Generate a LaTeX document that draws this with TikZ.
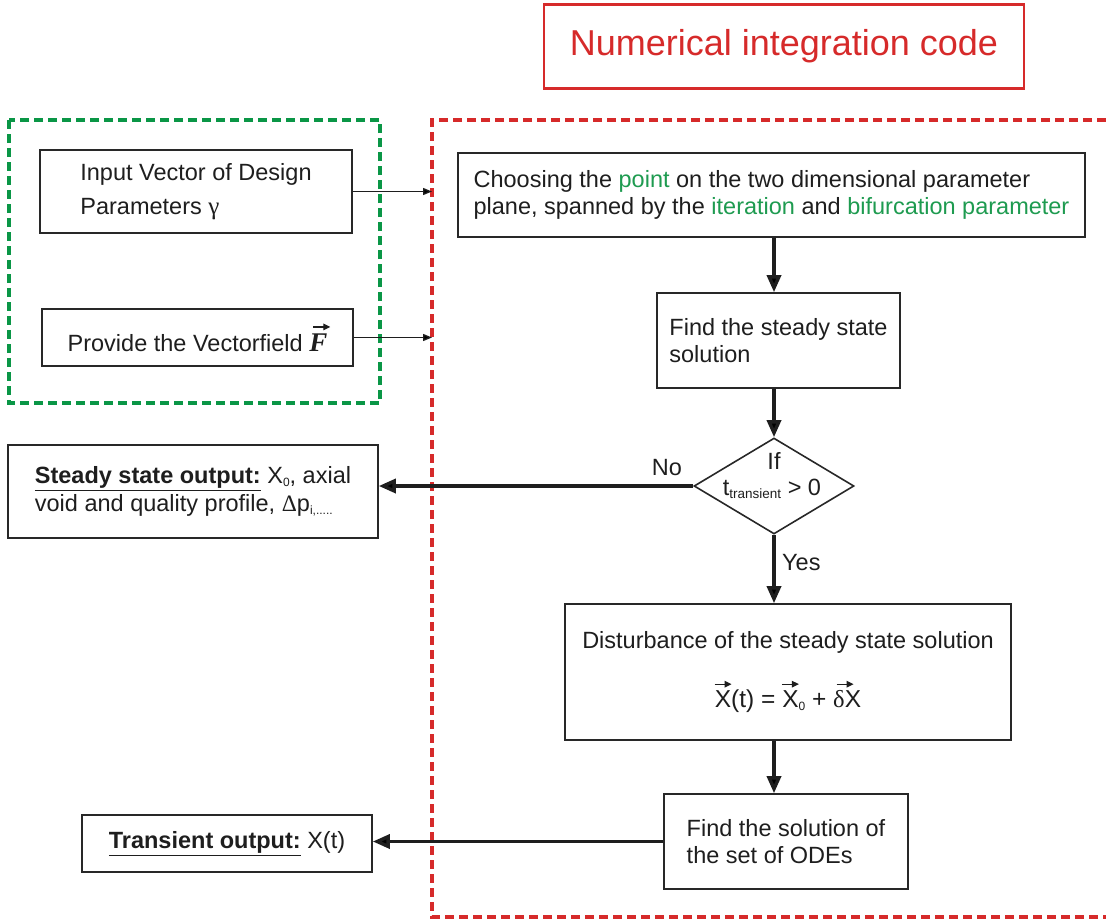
\documentclass[tikz,border=0pt]{standalone}
\usepackage{fontspec}
\usepackage{graphicx}
\setmainfont{Liberation Sans}
\newfontfamily\greekfont{Liberation Serif}
\usetikzlibrary{shapes.geometric,arrows.meta,calc}

\definecolor{ncred}{RGB}{214,42,42}
\definecolor{ncgreen}{RGB}{10,150,70}
\definecolor{wordgreen}{RGB}{30,155,80}
\definecolor{boxline}{RGB}{40,40,40}
\definecolor{textdark}{RGB}{30,30,30}

\newcommand\mainsize{\fontsize{23.5}{27}\selectfont}
% small lowered index, as in X_0
\newcommand\lowidx[1]{\raisebox{-2.5pt}{\fontsize{12}{12}\selectfont #1}}
% lowered subscript word, as in t_transient
\newcommand\lowword[1]{\raisebox{-3pt}{\fontsize{13.5}{13.5}\selectfont #1}}
% small drawn arrow
\newcommand\smallarrow{\tikz[x=1pt,y=1pt]\draw[textdark, line width=1.3pt,
  -{Triangle[length=7pt,width=6.5pt]}] (0,0) -- (17,0);}
% arrow placed above a symbol: #1 raise, #2 horizontal shift, #3 symbol
\newcommand\vecover[3]{\leavevmode\setbox0=\hbox{#3}%
  \rlap{\hbox to\wd0{\hss\kern#2\raisebox{#1}{\smallarrow}\hss}}\box0}

\tikzset{
  box/.style={draw=boxline, line width=1.6pt, fill=white, inner sep=0pt,
    text=textdark, font=\mainsize},
  flow/.style={draw=textdark, line width=3.4pt, -{Triangle[length=17pt,width=14pt]}},
  feed/.style={draw=textdark, line width=1.3pt, -{Triangle[length=9pt,width=7pt]}},
  frame/.style={line width=3.4pt, dash pattern=on 9pt off 5pt},
  lbl/.style={font=\mainsize, text=textdark, inner sep=0pt}
}

\begin{document}
\begin{tikzpicture}[x=1pt,y=-1pt]
\useasboundingbox (0,0) rectangle (1106,919);

% title
\node[draw=ncred, line width=2.8pt, minimum width=480pt, minimum height=84pt,
  text=ncred, font=\fontsize{36}{42}\selectfont] (title) at (784,46.5)
  {Numerical integration code};

% dashed frames
\draw[frame, ncgreen] (9,120) rectangle (380,403);
\draw[frame, ncred] (1120,120) -- (432,120) -- (432,917) -- (1120,917);
\coordinate (redleft) at (432,0);

% input side
\node[box, minimum width=312pt, minimum height=83pt, align=left,
  font=\fontsize{23.5}{34}\selectfont] (inp) at (196,191.5)
  {Input Vector of Design\\Parameters {\greekfont\fontsize{25}{25}\selectfont γ}};
\node[box, minimum width=311pt, minimum height=57pt] (vf) at (197.5,337.5)
  {Provide the Vectorfield
   \vecover{21pt}{7pt}{\greekfont\fontsize{27}{27}\selectfont\bfseries\itshape F}};

% main flow
\node[box, minimum width=627pt, minimum height=84pt, align=left] (choose) at (771.5,195)
  {Choosing the \textcolor{wordgreen}{point} on the two dimensional parameter\\
   plane, spanned by the \textcolor{wordgreen}{iteration} and
   \textcolor{wordgreen}{bifurcation parameter}};
\node[box, minimum width=243pt, minimum height=95pt, align=left] (steady) at (778.5,340.5)
  {Find the steady state\\solution};
\node[diamond, draw=boxline, line width=1.6pt, minimum width=160pt,
  minimum height=96pt, aspect=1.667, inner sep=0pt] (dec) at (774,486) {};
\node[lbl, anchor=base] (ifA) at (774,469) {If};
\node[lbl, anchor=base] (ifB) at (772,495) {t\lowword{transient} > 0};
\node[box, minimum width=446pt, minimum height=136pt, align=center] (dist) at (788,672)
  {Disturbance of the steady state solution\\[27pt]
   {\fontsize{24.5}{27}\selectfont
    \vecover{20.5pt}{0pt}{X}(t) = \vecover{20.5pt}{0pt}{X}\lowidx{0} + \vecover{20.5pt}{-4pt}{{\greekfont δ}X}}};
\node[box, minimum width=244pt, minimum height=95pt, align=left] (ode) at (786,841.5)
  {Find the solution of\\the set of ODEs};

% outputs
\node[box, minimum width=370pt, minimum height=93pt, align=left,
  font=\fontsize{23.5}{28}\selectfont] (sout) at (193,491.5)
  {\underline{\textbf{Steady state output:}} X\lowidx{0}, axial\\
   void and quality profile, {\greekfont Δ}p\lowidx{i,.....}};
\node[box, minimum width=290pt, minimum height=57pt] (tout) at (227,843.5)
  {\underline{\textbf{Transient output:}} X(t)};

% connectors
\draw[feed] (inp.east) -- (inp.east -| redleft);
\draw[feed] (vf.east) -- (vf.east -| redleft);
\draw[flow] (choose.south -| dec.north) -- (steady.north -| dec.north);
\draw[flow] (steady.south -| dec.north) -- (dec.north);
\draw[flow] (dec.west) -- (dec.west -| sout.east);
\draw[flow] (dec.south) -- (dist.north -| dec.south);
\draw[flow] (dist.south -| dec.south) -- (ode.north -| dec.south);
\draw[flow] (ode.west) -- (ode.west -| tout.east);

% branch labels
\node[lbl, anchor=base] (nolbl) at (667,475) {No};
\node[lbl, anchor=base west] (yeslbl) at (782,570) {Yes};
\end{tikzpicture}
\end{document}
